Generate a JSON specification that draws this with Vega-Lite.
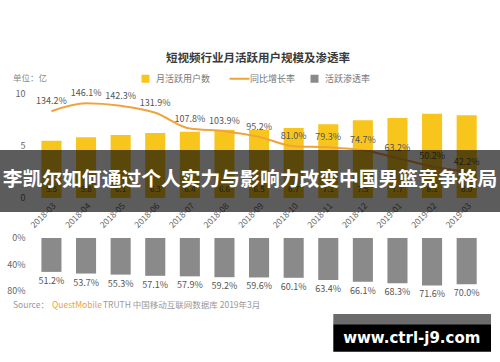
{
  "$schema": "https://vega.github.io/schema/vega-lite/v6.json",
  "width": 500,
  "height": 362,
  "autosize": {"type": "none"},
  "padding": 0,
  "background": "#ffffff",
  "config": {"view": {"stroke": null}, "font": "Noto Sans CJK SC", "axis": {"grid": false}},
  "datasets": {
    "mau": [
      {"month": "2018-03", "mau": 5.51, "growth": 1.342, "pen": 0.512},
      {"month": "2018-04", "mau": 5.84, "growth": 1.461, "pen": 0.537},
      {"month": "2018-05", "mau": 6.06, "growth": 1.423, "pen": 0.553},
      {"month": "2018-06", "mau": 6.25, "growth": 1.319, "pen": 0.571},
      {"month": "2018-07", "mau": 6.38, "growth": 1.078, "pen": 0.579},
      {"month": "2018-08", "mau": 6.57, "growth": 1.039, "pen": 0.592},
      {"month": "2018-09", "mau": 6.54, "growth": 0.952, "pen": 0.596},
      {"month": "2018-10", "mau": 6.73, "growth": 0.810, "pen": 0.601},
      {"month": "2018-11", "mau": 7.09, "growth": 0.793, "pen": 0.634},
      {"month": "2018-12", "mau": 7.47, "growth": 0.747, "pen": 0.661},
      {"month": "2019-01", "mau": 7.69, "growth": 0.632, "pen": 0.683},
      {"month": "2019-02", "mau": 8.11, "growth": 0.502, "pen": 0.716},
      {"month": "2019-03", "mau": 7.95, "growth": 0.422, "pen": 0.700}
    ]
  },
  "layer": [
    {
      "layer": [
        {
          "data": {"name": "mau"},
          "encoding": {
            "x": {
              "field": "month", "type": "ordinal",
              "scale": {"domain": ["2018-03","2018-04","2018-05","2018-06","2018-07","2018-08","2018-09","2018-10","2018-11","2018-12","2019-01","2019-02","2019-03"], "paddingInner": 0.42, "paddingOuter": 0.935, "align": 0.64},
              "axis": {"orient": "bottom", "offset": -164, "labelAngle": -45, "ticks": false, "domain": false, "labelFontSize": 8.5, "labelColor": "#666", "title": null, "labelPadding": 3}
            }
          },
          "layer": [
            {
              "mark": {"type": "bar"},
              "encoding": {
                "y": {"field": "mau", "type": "quantitative", "scale": {"domain": [-15.769, 19.038], "nice": false, "zero": false},
                      "axis": {"orient": "left", "offset": -27, "values": [0, 5, 10], "ticks": false, "domain": false, "labelPadding": 2, "labelFontSize": 9, "labelColor": "#666", "title": null}},
                "y2": {"datum": 0},
                "color": {
                  "datum": "月活跃用户数", "type": "nominal",
                  "scale": {"domain": ["月活跃用户数", "同比增长率", "活跃渗透率"], "range": ["#F8C51C", "#F0A33A", "#8A8A8A"]},
                  "legend": {
                    "orient": "none", "legendX": 141, "legendY": 74, "direction": "horizontal", "title": null,
                    "labelFontSize": 9, "labelColor": "#777", "labelOffset": 6, "columnPadding": 14, "symbolSize": 64, "padding": 0,
                    "encode": {"symbols": {"update": {
                      "shape": {"signal": "datum.value === '同比增长率' ? 'stroke' : 'square'"},
                      "fill": {"signal": "datum.value === '同比增长率' ? 'transparent' : scale('color', datum.value)"},
                      "stroke": {"signal": "scale('color', datum.value)"},
                      "strokeWidth": {"signal": "datum.value === '同比增长率' ? 2 : 0"},
                      "size": {"signal": "datum.value === '同比增长率' ? 400 : 64"},
                      "opacity": {"value": 1}
                    }}}
                  }
                }
              }
            },
            {
              "mark": {"type": "text", "dy": -8, "fontSize": 8, "color": "#555"},
              "encoding": {"y": {"datum": 0}, "text": {"field": "mau", "type": "quantitative", "format": ".1f"}}
            }
          ]
        },
        {
          "data": {"name": "mau"},
          "encoding": {
            "x": {"field": "month", "type": "ordinal"},
            "y": {"field": "growth", "type": "quantitative", "scale": {"domain": [-2.468, 3.031], "nice": false, "zero": false}, "axis": null}
          },
          "layer": [
            {"mark": {"type": "line", "interpolate": "monotone", "strokeWidth": 2}, "encoding": {"color": {"datum": "同比增长率", "type": "nominal"}}},
            {"mark": {"type": "text", "dy": -10, "fontSize": 9, "color": "#555"}, "encoding": {"text": {"field": "growth", "type": "quantitative", "format": ".1%"}}}
          ]
        },
        {
          "data": {"name": "mau"},
          "encoding": {
            "x": {"field": "month", "type": "ordinal"},
            "y": {"field": "pen", "type": "quantitative", "scale": {"domain": [-3.592, 1.872], "reverse": true, "nice": false, "zero": false},
                  "axis": {"orient": "left", "offset": -27, "values": [0, 0.4, 0.8], "format": ".0%", "ticks": false, "domain": false, "labelPadding": 2, "labelFontSize": 9, "labelColor": "#666", "title": null}}
          },
          "layer": [
            {"mark": {"type": "bar"}, "encoding": {"y2": {"datum": 0}, "color": {"datum": "活跃渗透率", "type": "nominal"}}},
            {"mark": {"type": "text", "dy": 9, "fontSize": 9, "color": "#555"}, "encoding": {"text": {"field": "pen", "type": "quantitative", "format": ".1%"}}}
          ]
        }
      ],
      "resolve": {"scale": {"y": "independent"}}
    },
    {
      "data": {"values": [{}]},
      "encoding": {
        "x": {"datum": 0.5, "type": "quantitative", "scale": {"domain": [0, 1], "nice": false, "zero": false}, "axis": null},
        "y": {"datum": 0, "type": "quantitative", "scale": {"domain": [-15.769, 19.038], "nice": false, "zero": false}, "axis": null}
      },
      "layer": [
        {"mark": {"type": "text", "text": "短视频行业月活跃用户规模及渗透率", "fontSize": 11.5, "fontWeight": "bold", "color": "#3a3a3a"},
         "encoding": {"x": {"datum": 0.516}, "y": {"datum": 13.34}}},
        {"mark": {"type": "text", "text": "单位：亿", "fontSize": 8.5, "color": "#888", "align": "left"},
         "encoding": {"x": {"datum": 0.026}, "y": {"datum": 11.51}}},
        {"mark": {"type": "text", "text": "Source：", "fontSize": 8.5, "color": "#999", "align": "left"},
         "encoding": {"x": {"datum": 0.026}, "y": {"datum": -10.288}}},
        {"mark": {"type": "text", "text": "QuestMobile", "fontSize": 8.5, "color": "#E9A23B", "align": "left"},
         "encoding": {"x": {"datum": 0.104}, "y": {"datum": -10.288}}},
        {"mark": {"type": "text", "text": "TRUTH 中国移动互联网数据库 2019年3月", "fontSize": 8.5, "color": "#999", "align": "left"},
         "encoding": {"x": {"datum": 0.206}, "y": {"datum": -10.288}}},
        {"mark": {"type": "rect", "color": "#000000", "opacity": 0.64},
         "encoding": {"x": {"datum": 0}, "x2": {"datum": 1}, "y": {"datum": 4.615}, "y2": {"datum": -1.346}}},
        {"mark": {"type": "text", "text": "李凯尔如何通过个人实力与影响力改变中国男篮竞争格局", "fontSize": 19.8, "fontWeight": "bold", "color": "#ffffff"},
         "encoding": {"x": {"datum": 0.5}, "y": {"datum": 1.73}}},
        {"mark": {"type": "rect", "color": "#6b6b6b"},
         "encoding": {"x": {"datum": 0.6666}, "x2": {"datum": 0.982}, "y": {"datum": -11.154}, "y2": {"datum": -12.144}}},
        {"mark": {"type": "rect", "color": "#000000"},
         "encoding": {"x": {"datum": 0.6666}, "x2": {"datum": 0.982}, "y": {"datum": -12.144}, "y2": {"datum": -14.779}}},
        {"mark": {"type": "text", "text": "www.ctrl-j9.com", "font": "DejaVu Sans", "fontSize": 15, "fontWeight": "bold", "color": "#ffffff"},
         "encoding": {"x": {"datum": 0.8235}, "y": {"datum": -13.46}}}
      ]
    }
  ],
  "resolve": {"scale": {"x": "independent", "y": "independent"}}
}
